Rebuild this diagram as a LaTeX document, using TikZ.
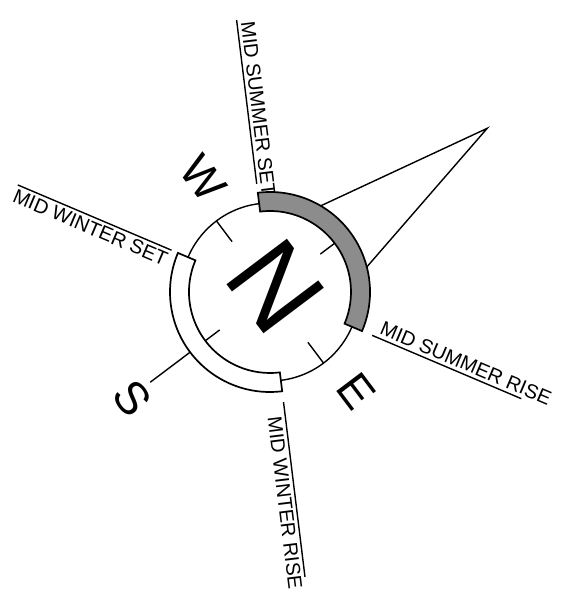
\documentclass[tikz,border=0pt]{standalone}
\usepackage{fontspec}
\setmainfont{Liberation Sans}
\begin{document}
\begin{tikzpicture}[
  x=1pt, y=1pt,
  thinline/.style={line width=1.4pt, black},
  bandline/.style={line width=1.7pt, black},
  raylabel/.style={font=\fontsize{20}{24}\selectfont, inner sep=3pt},
  compassletter/.style={font=\fontsize{46}{50}\selectfont, rotate=-53, inner sep=0pt},
]
\useasboundingbox (-270,-300) rectangle (291,292);

% ---------- geometry ----------
\def\R{89}      % compass circle
\def\Ri{81}     % band inner radius
\def\Ro{100}    % band outer radius
\def\aN{37}     % north
\def\aSS{97}    % mid summer set
\def\aSR{-23}   % mid summer rise
\def\aWS{157}   % mid winter set
\def\aWR{277}   % mid winter rise

% =====================================================
% solstice lines
% =====================================================
\draw[thinline] (\aSS:274) coordinate (ssOut) -- (\aSS:109) coordinate (ssIn)
  node[raylabel, sloped, above, pos=0.55] (ssLab) {MID SUMMER SET};
\draw[thinline] (\aSR:111) coordinate (srIn) -- (\aSR:273) coordinate (srOut)
  node[raylabel, sloped, above, pos=0.6] (srLab) {MID SUMMER RISE};
\draw[thinline] (\aWS:274) coordinate (wsOut) -- (\aWS:107) coordinate (wsIn)
  node[raylabel, sloped, below, midway] (wsLab) {MID WINTER SET};
\draw[thinline] (\aWR:111) coordinate (wrIn) -- (\aWR:287) coordinate (wrOut)
  node[raylabel, sloped, below, pos=0.57] (wrLab) {MID WINTER RISE};

% north pointer
\coordinate (apex) at (\aN:272);
\draw[thinline] ({\aN+22.5}:\Ro) -- (apex) -- ({\aN-22.5}:\Ro);

% south pointer
\draw[thinline] (217:\Ro) -- (217:150);

% =====================================================
% compass ring
% =====================================================
\draw[thinline] (0,0) circle (\R);
\foreach \a in {37,127,217,307}
  \draw[thinline] (\a:63) -- (\a:\R);

% summer band (grey)
\draw[bandline, fill=black!45]
  (\aSS:\Ri) arc[start angle=\aSS, end angle=\aSR, radius=\Ri]
  -- (\aSR:\Ro) arc[start angle=\aSR, end angle=\aSS, radius=\Ro] -- cycle;

% winter band (white)
\draw[bandline, fill=white]
  (\aWS:\Ri) arc[start angle=\aWS, end angle=\aWR, radius=\Ri]
  -- (\aWR:\Ro) arc[start angle=\aWR, end angle=\aWS, radius=\Ro] -- cycle;

% ---------- letters ----------
\node[font=\fontsize{110}{110}\selectfont, rotate=-53, inner sep=0pt] (N) at (6,6) {N};
\node[compassletter] (W) at (-67,114) {W};
\node[compassletter] (E) at (86,-99) {E};
\node[compassletter] (S) at (-138,-106) {S};

\end{tikzpicture}
\end{document}
